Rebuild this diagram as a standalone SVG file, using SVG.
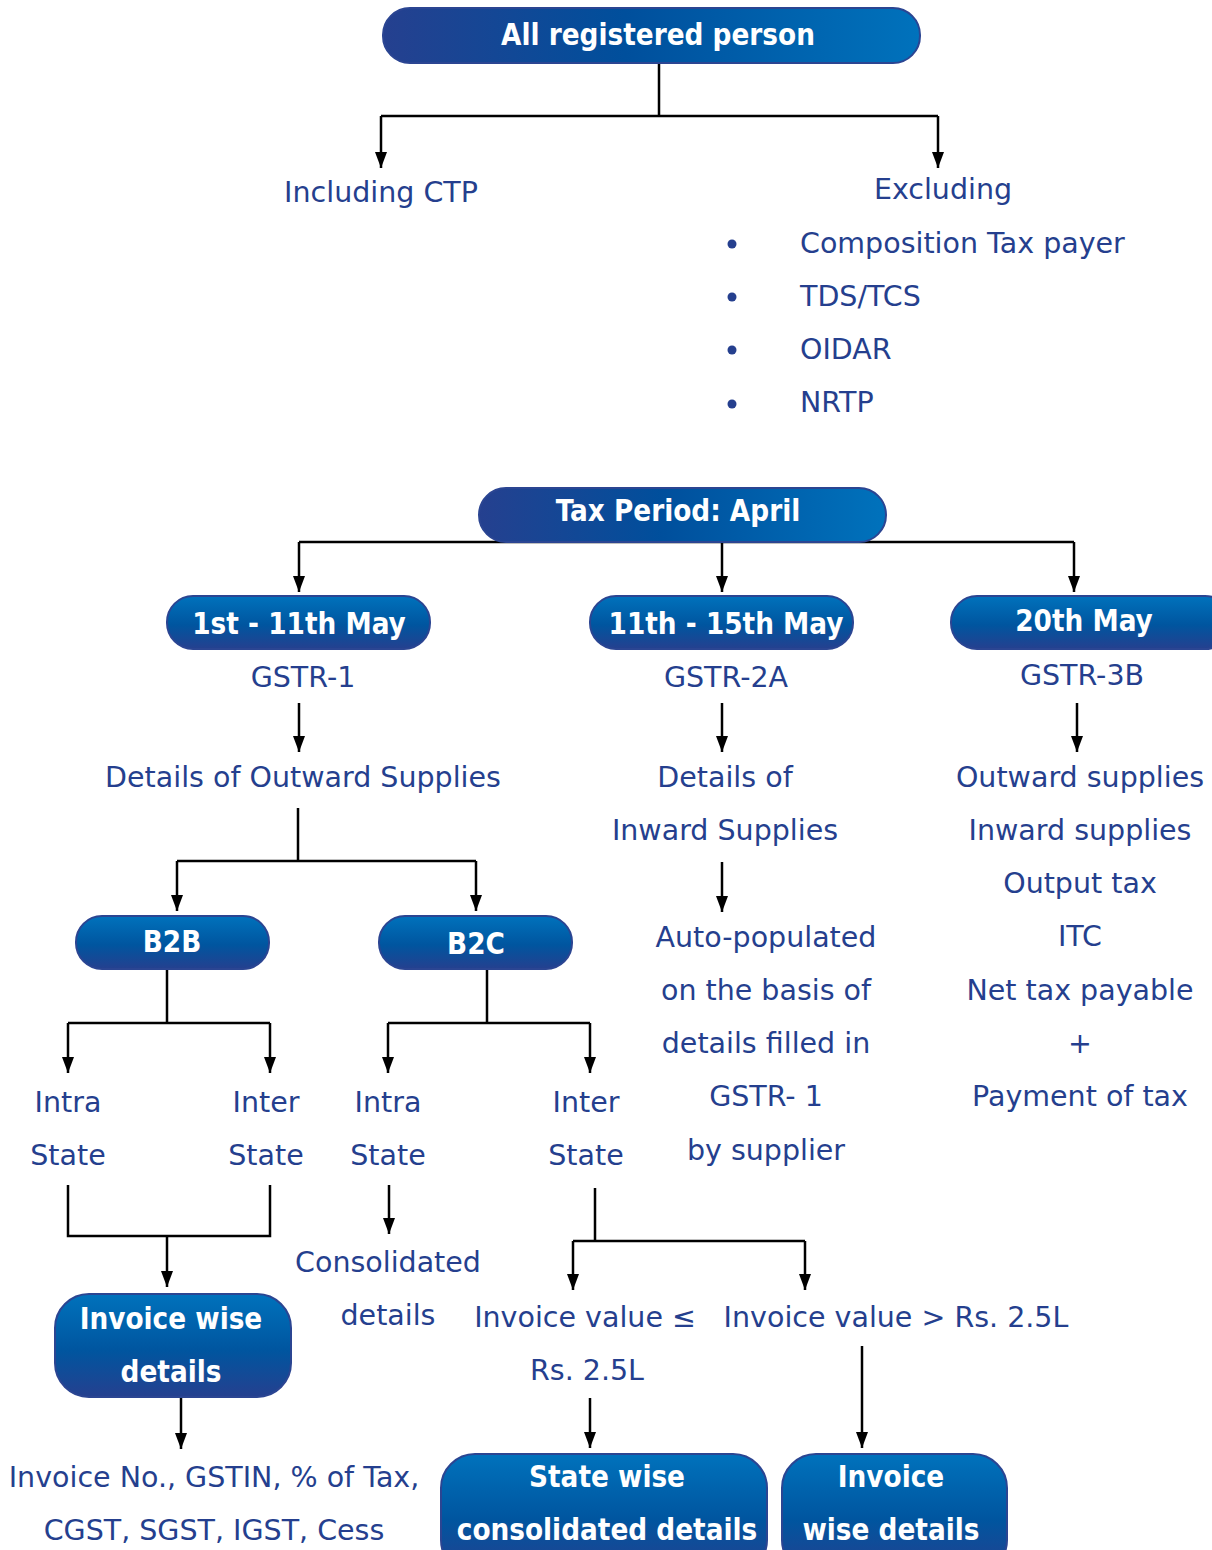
<svg xmlns="http://www.w3.org/2000/svg" width="1212" height="1550" viewBox="0 0 1212 1550">
<defs>
<linearGradient id="gh" x1="0" y1="0" x2="1" y2="0">
<stop offset="0" stop-color="#25408f"/><stop offset="0.45" stop-color="#004f9c"/><stop offset="1" stop-color="#0072bc"/>
</linearGradient>
<linearGradient id="gv" x1="0" y1="0" x2="0" y2="1">
<stop offset="0" stop-color="#0072bc"/><stop offset="0.55" stop-color="#00559f"/><stop offset="1" stop-color="#25408f"/>
</linearGradient>
<marker id="ah" viewBox="0 0 16 12" refX="16" refY="6" markerWidth="16" markerHeight="12" markerUnits="userSpaceOnUse" orient="auto">
<path d="M0,0 L16,6 L0,12 Z" fill="#000"/>
</marker>
</defs>
<style>
.t{font-family:"DejaVu Sans",sans-serif;font-size:28.5px;fill:#253f8e;text-anchor:middle}
.tl{font-family:"DejaVu Sans",sans-serif;font-size:28.5px;fill:#253f8e}
.w{font-family:"DejaVu Sans Condensed","DejaVu Sans",sans-serif;font-size:29.3px;font-weight:bold;fill:#fff;text-anchor:middle}
.bx{fill:url(#gv);stroke:#2b4592;stroke-width:2}
.ln{fill:none;stroke:#000;stroke-width:2.5}
.ar{fill:none;stroke:#000;stroke-width:2.5;marker-end:url(#ah)}
</style>

<g id="connectors">
<path class="ln" d="M659,63 V116 M381,116 H938"/>
<path class="ar" d="M381,116 V168"/>
<path class="ar" d="M938,116 V168"/>
<path class="ln" d="M299,542 H1074"/>
<path class="ar" d="M299,542 V592"/>
<path class="ar" d="M722,542 V592"/>
<path class="ar" d="M1074,542 V592"/>
<path class="ar" d="M299,703 V752"/>
<path class="ar" d="M722,703 V752"/>
<path class="ar" d="M1077,703 V752"/>
<path class="ln" d="M298,808 V861 M177,861 H476"/>
<path class="ar" d="M177,861 V911"/>
<path class="ar" d="M476,861 V911"/>
<path class="ar" d="M722,862 V912"/>
<path class="ln" d="M167,969 V1023 M68,1023 H270"/>
<path class="ar" d="M68,1023 V1073"/>
<path class="ar" d="M270,1023 V1073"/>
<path class="ln" d="M487,969 V1023 M388,1023 H590"/>
<path class="ar" d="M388,1023 V1073"/>
<path class="ar" d="M590,1023 V1073"/>
<path class="ln" d="M68,1185 V1236 H270 V1185"/>
<path class="ar" d="M167,1236 V1287"/>
<path class="ar" d="M181,1397 V1449"/>
<path class="ar" d="M389,1185 V1234"/>
<path class="ln" d="M595,1188 V1241 M573,1241 H805"/>
<path class="ar" d="M573,1241 V1290"/>
<path class="ar" d="M805,1241 V1290"/>
<path class="ar" d="M590,1398 V1448"/>
<path class="ar" d="M862,1346 V1448"/>
</g>

<g id="n-all">
<rect x="383" y="8" width="537" height="55" rx="27" fill="url(#gh)" stroke="#2b4592" stroke-width="2"/>
<text class="w" x="658" y="45">All registered person</text>
</g>
<g id="n-incl"><text class="t" x="381" y="202">Including CTP</text></g>
<g id="n-excl">
<text class="t" x="943" y="199">Excluding</text>
<circle cx="732" cy="244" r="4.5" fill="#253f8e"/>
<circle cx="732" cy="297" r="4.5" fill="#253f8e"/>
<circle cx="732" cy="350" r="4.5" fill="#253f8e"/>
<circle cx="732" cy="404" r="4.5" fill="#253f8e"/>
<text class="tl" x="800" y="253">Composition Tax payer</text>
<text class="tl" x="800" y="306">TDS/TCS</text>
<text class="tl" x="800" y="359">OIDAR</text>
<text class="tl" x="800" y="412">NRTP</text>
</g>

<g id="n-period">
<rect x="479" y="488" width="407" height="54" rx="27" fill="url(#gh)" stroke="#2b4592" stroke-width="2"/>
<text class="w" x="678" y="521">Tax Period: April</text>
</g>

<g id="n-may1">
<rect class="bx" x="167" y="596" width="263" height="53" rx="26"/>
<text class="w" x="299" y="634">1st - 11th May</text>
</g>
<g id="n-may2">
<rect class="bx" x="590" y="596" width="263" height="53" rx="26"/>
<text class="w" x="726" y="634">11th - 15th May</text>
</g>
<g id="n-may3">
<rect class="bx" x="951" y="596" width="280" height="53" rx="26"/>
<text class="w" x="1084" y="631">20th May</text>
</g>

<g id="n-gstr1"><text class="t" x="303" y="687">GSTR-1</text></g>
<g id="n-gstr2a"><text class="t" x="726" y="687">GSTR-2A</text></g>
<g id="n-gstr3b"><text class="t" x="1082" y="685">GSTR-3B</text></g>

<g id="n-outward"><text class="t" x="303" y="787">Details of Outward Supplies</text></g>
<g id="n-inward">
<text class="t" x="725" y="787">Details of</text>
<text class="t" x="725" y="840">Inward Supplies</text>
</g>
<g id="n-3b">
<text class="t" x="1080" y="787">Outward supplies</text>
<text class="t" x="1080" y="840">Inward supplies</text>
<text class="t" x="1080" y="893">Output tax</text>
<text class="t" x="1080" y="946">ITC</text>
<text class="t" x="1080" y="1000">Net tax payable</text>
<text class="t" x="1080" y="1053">+</text>
<text class="t" x="1080" y="1106">Payment of tax</text>
</g>
<g id="n-auto">
<text class="t" x="766" y="947">Auto-populated</text>
<text class="t" x="766" y="1000">on the basis of</text>
<text class="t" x="766" y="1053">details filled in</text>
<text class="t" x="766" y="1106">GSTR- 1</text>
<text class="t" x="766" y="1160">by supplier</text>
</g>

<g id="n-b2b">
<rect class="bx" x="76" y="916" width="193" height="53" rx="26"/>
<text class="w" x="172" y="952">B2B</text>
</g>
<g id="n-b2c">
<rect class="bx" x="379" y="916" width="193" height="53" rx="26"/>
<text class="w" x="476" y="954">B2C</text>
</g>

<g id="n-b2b-intra"><text class="t" x="68" y="1112">Intra</text><text class="t" x="68" y="1165">State</text></g>
<g id="n-b2b-inter"><text class="t" x="266" y="1112">Inter</text><text class="t" x="266" y="1165">State</text></g>
<g id="n-b2c-intra"><text class="t" x="388" y="1112">Intra</text><text class="t" x="388" y="1165">State</text></g>
<g id="n-b2c-inter"><text class="t" x="586" y="1112">Inter</text><text class="t" x="586" y="1165">State</text></g>

<g id="n-invwise">
<rect class="bx" x="55" y="1294" width="236" height="103" rx="34"/>
<text class="w" x="171" y="1329">Invoice wise</text>
<text class="w" x="171" y="1382">details</text>
</g>
<g id="n-invfields">
<text class="t" x="214" y="1487">Invoice No., GSTIN, % of Tax,</text>
<text class="t" x="214" y="1540">CGST, SGST, IGST, Cess</text>
</g>
<g id="n-consol">
<text class="t" x="388" y="1272">Consolidated</text>
<text class="t" x="388" y="1325">details</text>
</g>
<g id="n-le">
<text class="t" x="585" y="1327">Invoice value ≤</text>
<text class="t" x="587" y="1380">Rs. 2.5L</text>
</g>
<g id="n-gt"><text class="t" x="896" y="1327">Invoice value &gt; Rs. 2.5L</text></g>
<g id="n-statewise">
<rect class="bx" x="441" y="1454" width="326" height="120" rx="34"/>
<text class="w" x="607" y="1487">State wise</text>
<text class="w" x="607" y="1540">consolidated details</text>
</g>
<g id="n-invwise2">
<rect class="bx" x="782" y="1454" width="225" height="120" rx="34"/>
<text class="w" x="891" y="1487">Invoice</text>
<text class="w" x="891" y="1540">wise details</text>
</g>
</svg>
